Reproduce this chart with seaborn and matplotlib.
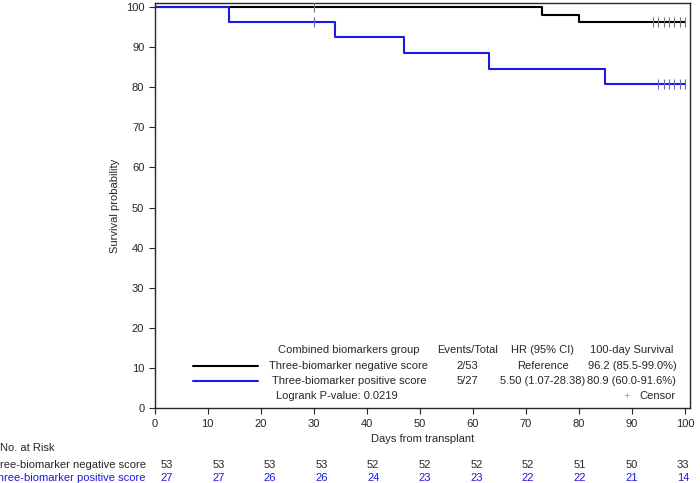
import numpy as np
import matplotlib
matplotlib.use('Agg')
import matplotlib.pyplot as plt
import matplotlib.transforms as mtransforms
import seaborn as sns

sns.set_style('ticks')
plt.rcParams['font.family'] = ['Liberation Sans', 'DejaVu Sans']

# step curves (time, survival %)
neg_t = [0, 73, 80, 100]
neg_s = [100, 98.1, 96.2, 96.2]
pos_t = [0, 14, 34, 47, 63, 85, 100]
pos_s = [100, 96.3, 92.6, 88.5, 84.6, 80.9, 80.9]
neg_cens_t = [30, 94, 95, 96, 97, 98, 99, 100]
neg_cens_s = [100, 96.2, 96.2, 96.2, 96.2, 96.2, 96.2, 96.2]
pos_cens_t = [30, 95, 96, 97, 98, 99, 100]
pos_cens_s = [96.3, 80.9, 80.9, 80.9, 80.9, 80.9, 80.9]

risk_days = [0, 10, 20, 30, 40, 50, 60, 70, 80, 90, 100]
risk_neg = [53, 53, 53, 53, 52, 52, 52, 52, 51, 50, 33]
risk_pos = [27, 27, 26, 26, 24, 23, 23, 22, 22, 21, 14]

fig = plt.figure(figsize=(7, 4.83), dpi=100)
ax = fig.add_axes([0.221, 0.155, 0.765, 0.839])

sns.lineplot(x=neg_t, y=neg_s, drawstyle='steps-post', color='black', lw=1.5, ax=ax)
sns.lineplot(x=pos_t, y=pos_s, drawstyle='steps-post', color='#1a1ae6', lw=1.5, ax=ax)
ax.scatter(neg_cens_t, neg_cens_s, marker='|', s=50, color='#777777', lw=0.8, zorder=3)
ax.scatter(pos_cens_t, pos_cens_s, marker='|', s=50, color='#6666cc', lw=0.8, zorder=3)

ax.set_xlim(0, 101)
ax.set_ylim(0, 101)
ax.set_xticks(range(0, 101, 10))
ax.set_yticks(range(0, 101, 10))
ax.tick_params(labelsize=8, direction='out', length=4)
ax.set_xlabel('Days from transplant', fontsize=8)
ax.set_ylabel('Survival probability', fontsize=8)
for s in ax.spines.values():
    s.set_visible(True)
    s.set_linewidth(1)

# legend table
fs = 8
ax.plot([7.2, 19.4], [10.4, 10.4], color='black', lw=1.5)
ax.plot([7.2, 19.4], [6.8, 6.8], color='#1a1ae6', lw=1.5)
rows = [14.6, 10.6, 6.8]
cols = [(36.6, ['Combined biomarkers group', 'Three-biomarker negative score', 'Three-biomarker positive score']),
        (59, ['Events/Total', '2/53', '5/27']),
        (73.2, ['HR (95% CI)', 'Reference', '5.50 (1.07-28.38)']),
        (90, ['100-day Survival', '96.2 (85.5-99.0%)', '80.9 (60.0-91.6%)'])]
for x, labels in cols:
    for y, lab in zip(rows, labels):
        ax.text(x, y, lab, ha='center', va='center', fontsize=fs)
ax.text(22.8, 3.0, 'Logrank P-value: 0.0219', ha='left', fontsize=fs, va='center')
ax.text(89, 3.0, '+', ha='center', fontsize=fs, va='center', color='#999999')
ax.text(98.3, 3.0, 'Censor', ha='right', fontsize=fs, va='center')

# at-risk table
trans = mtransforms.blended_transform_factory(ax.transData, fig.transFigure)
fig.text(0.0, 0.0725, 'No. at Risk', fontsize=fs, va='center')
fig.text(0.208, 0.037, 'Three-biomarker negative score', fontsize=fs, va='center', ha='right')
fig.text(0.208, 0.010, 'Three-biomarker positive score', fontsize=fs, va='center', ha='right',
         color='#1a1ae6')
for d, n, p in zip(risk_days, risk_neg, risk_pos):
    xd = (12 + 5.16 * d) / 5.3
    ax.text(xd, 0.037, str(n), transform=trans, ha='center', va='center', fontsize=fs)
    ax.text(xd, 0.010, str(p), transform=trans, ha='center', va='center', fontsize=fs, color='#1a1ae6')

fig.savefig('out.png', dpi=100)
